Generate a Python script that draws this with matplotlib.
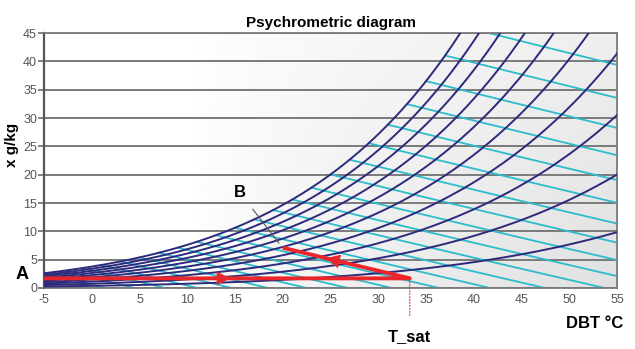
import numpy as np
import matplotlib
matplotlib.use("Agg")
import matplotlib.pyplot as plt

# chart data
rh_levels = [0.1, 0.2, 0.3, 0.4, 0.5, 0.6, 0.7, 0.8, 0.9, 1.0]   # relative humidity curves
wb_temps = list(range(-5, 41, 2))                               # isenthalps start on saturation at these temps
x_ticks = [-5, 0, 5, 10, 15, 20, 25, 30, 35, 40, 45, 50, 55]
y_ticks = [0, 5, 10, 15, 20, 25, 30, 35, 40, 45]
proc_T = [-5, 33.3, 20.0]     # A -> T_sat -> B
proc_x = [1.7, 1.7, 7.1]

P = 101.325  # kPa


def psat(t):
    return 0.61094 * np.exp(17.625 * t / (t + 243.04))


def x_of(t, rh):
    pv = rh * psat(t)
    return 622.0 * pv / (P - pv)


def enth(t, x):
    return 1.006 * t + x / 1000.0 * (2501 + 1.86 * t)


plt.rcParams['font.family'] = ['Liberation Sans', 'DejaVu Sans']
plt.rcParams['axes.unicode_minus'] = False

fig = plt.figure(figsize=(6.35, 3.49), dpi=100)
ax = fig.add_axes([0.0693, 0.1748, 0.9024, 0.7306])
ax.set_xlim(-5, 55)
ax.set_ylim(0, 45)

# background gradient, white on the left to light grey on the right
gx = np.linspace(0, 1, 200)
gy = np.linspace(0, 1, 50)
GX, GY = np.meshgrid(gx, gy)
shade = 1.0 - 0.12 * np.clip((GX - 0.25) / 0.75, 0, 1) ** 0.7 * (0.55 + 0.45 * GY)
ax.imshow(shade, cmap='gray', vmin=0, vmax=1, extent=[-5, 55, 0, 45],
          aspect='auto', origin='upper', zorder=0)

for yv in y_ticks:
    ax.axhline(yv, color='#7a7a7a', lw=1.4, zorder=1)

T = np.linspace(-5, 55, 400)
navy = '#2d2a7c'
cyan = '#2cbccc'

for tw in wb_temps:
    xs = x_of(tw, 1.0)
    h = enth(tw, xs)
    tt = np.linspace(tw, 55, 200)
    xx = (h - 1.006 * tt) * 1000.0 / (2501 + 1.86 * tt)
    m = xx >= 0
    ax.plot(tt[m], xx[m], color=cyan, lw=1.3, zorder=2)

for rh in rh_levels:
    ax.plot(T, x_of(T, rh), color=navy, lw=1.4, zorder=3)

red = '#e8262b'
ax.plot(proc_T, proc_x, color=red, lw=2.8, zorder=5, solid_capstyle='butt')


def head(p0, p1, f):
    p0 = np.array(p0)
    p1 = np.array(p1)
    mid = p0 + f * (p1 - p0)
    tip = mid + 0.04 * (p1 - p0)
    ax.annotate('', xy=tip, xytext=mid,
                arrowprops=dict(arrowstyle='-|>,head_length=1.0,head_width=0.5',
                                color=red, lw=0, shrinkA=0, shrinkB=0), zorder=6)


head((proc_T[0], proc_x[0]), (proc_T[1], proc_x[1]), 0.47)
head((proc_T[1], proc_x[1]), (proc_T[2], proc_x[2]), 0.62)

# labels
ax.text(-7.3, 2.3, 'A', fontsize=13, fontweight='bold', ha='center', va='center', clip_on=False)
ax.annotate('B', xy=(19.6, 7.9), xytext=(15.5, 16.9), fontsize=12, fontweight='bold',
            ha='center', va='center',
            arrowprops=dict(arrowstyle='-', color='#555555', lw=0.8, shrinkA=6, shrinkB=0))
ax.annotate('T_sat', xy=(proc_T[1], proc_x[1]), xytext=(proc_T[1], -8.6),
            fontsize=12, fontweight='bold', ha='center', va='center',
            annotation_clip=False,
            arrowprops=dict(arrowstyle='-', color=red, lw=0.8, ls=':', shrinkA=8, shrinkB=0))

ax.set_title('Psychrometric diagram', fontsize=11, fontweight='bold', pad=4)
ax.text(-8.4, 25.2, 'x g/kg', rotation=90, fontsize=11, fontweight='bold',
        ha='center', va='center', clip_on=False, zorder=10)
ax.text(55.6, -6.3, 'DBT \u00b0C', fontsize=12, fontweight='bold', ha='right', va='center',
        clip_on=False)

ax.set_xticks(x_ticks)
ax.set_yticks(y_ticks)
ax.tick_params(axis='x', length=0, pad=4, labelsize=9, labelcolor='#555555')
ax.tick_params(axis='y', length=4, width=1.3, color='#7a7a7a', pad=1, labelsize=9,
               labelcolor='#555555')

ax.spines['left'].set_color('#555555')
ax.spines['left'].set_linewidth(1.6)
for s in ['right', 'bottom', 'top']:
    ax.spines[s].set_color('#7a7a7a')
    ax.spines[s].set_linewidth(1.3)

fig.savefig('out.png', dpi=100)
